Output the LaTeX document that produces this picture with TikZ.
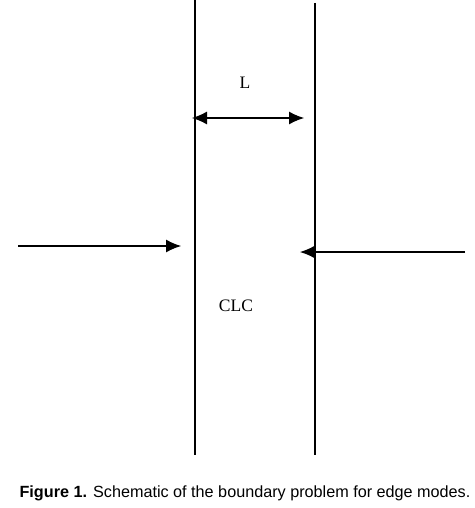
\documentclass[tikz,border=0pt]{standalone}
\usepackage{fontspec}
\setmainfont{Liberation Serif}
\newfontfamily\captionfont{Liberation Sans}
\usetikzlibrary{arrows.meta}
\begin{document}
\begin{tikzpicture}[x=1pt, y=-1pt, line width=1.1pt,
    flecha/.style={-{Latex[length=15pt,width=13pt]}},
    etiqueta/.style={font=\fontsize{17.5}{20}\selectfont}]

    % Fijamos el marco
    \useasboundingbox (0,0) rectangle (474,508);

    % Las dos fronteras
    \coordinate (izqarriba) at (195,0);
    \coordinate (izqabajo) at (195,455);
    \coordinate (derarriba) at (315,3);
    \coordinate (derabajo) at (315,455);
    \draw (izqarriba) -- (izqabajo);
    \draw (derarriba) -- (derabajo);

    % Anchura L
    \node[etiqueta] (ancho) at (245,83) {L};
    \coordinate (anchoizq) at (192,118);
    \coordinate (anchoder) at (304,118);
    \draw[{Latex[length=15pt,width=13pt]}-{Latex[length=15pt,width=13pt]}] (anchoizq) -- (anchoder);

    % Ondas incidentes
    \coordinate (entradaizq) at (18,246);
    \coordinate (puntaizq) at (181,246);
    \draw[flecha] (entradaizq) -- (puntaizq);
    \coordinate (entradader) at (465,252);
    \coordinate (puntader) at (300,252);
    \draw[flecha] (entradader) -- (puntader);

    % Medio
    \node[etiqueta] (clc) at (236,306) {CLC};

    % Pie de figura
    \node[font=\captionfont\fontsize{16.2}{18}\selectfont] (pie) at (245,493)
        {\textbf{Figure 1.} Schematic of the boundary problem for edge modes.};

\end{tikzpicture}
\end{document}
